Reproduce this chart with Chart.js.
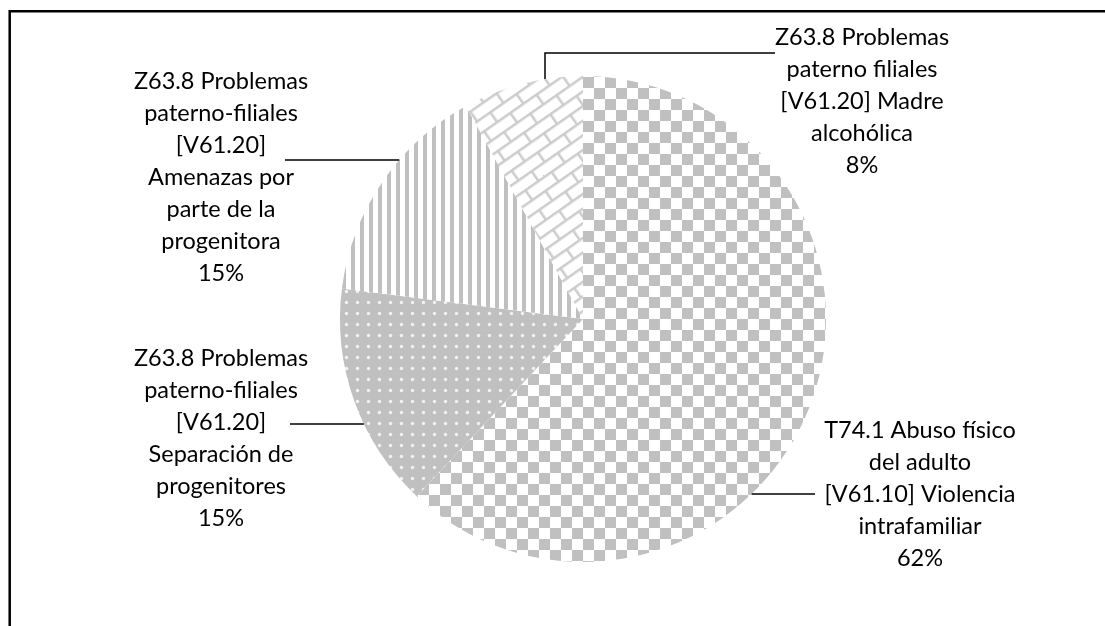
<!DOCTYPE html>
<html>
<head>
<meta charset="utf-8">
<script src="https://cdn.jsdelivr.net/npm/chart.js@4/dist/chart.umd.min.js"></script>
<style>
  html,body{margin:0;padding:0;background:#fff;overflow:hidden}
  #wrap{position:relative;width:1105px;height:626px}
</style>
</head>
<body>
<div id="wrap"><canvas id="chart" width="1105" height="626"></canvas></div>
<script>
// ---- Data ----
const categories = [
  ["T74.1 Abuso físico","del adulto","[V61.10] Violencia","intrafamiliar"],
  ["Z63.8 Problemas","paterno-filiales","[V61.20]","Separación de","progenitores"],
  ["Z63.8 Problemas","paterno-filiales","[V61.20]","Amenazas por","parte de la","progenitora"],
  ["Z63.8 Problemas","paterno filiales","[V61.20] Madre","alcohólica"]
];
const values = [62, 15, 15, 8];

// ---- Label placement (offsets from pie centre, px) ----
const labelLayout = [
  {tx: 337,  ty: 111,  line:{kind:"h", y: 175,  side: 1, to: 232}},
  {tx: -362, ty: 39,   line:{kind:"h", y: 105,  side:-1, to:-293}},
  {tx: -362, ty: -238, line:{kind:"h", y:-159,  side:-1, to:-298}},
  {tx: 279,  ty: -282, line:{kind:"v", x:-38, elbowY:-266, to:192}}
];
const LINE_H = 32;
const FONT = "23.5px Lato";

// ---- Patterns ----
function tile(w,h,draw){
  const c=document.createElement("canvas"); c.width=w; c.height=h;
  draw(c.getContext("2d")); return c;
}
const GRAY = "#c0c0c0";
const pctx = document.getElementById("chart").getContext("2d");

const checker = pctx.createPattern(tile(22,22,g=>{
  g.fillStyle="#fff"; g.fillRect(0,0,22,22);
  g.fillStyle=GRAY; g.fillRect(0,0,11,11); g.fillRect(11,11,11,11);
}),"repeat");

const dots = pctx.createPattern(tile(11,11,g=>{
  g.fillStyle=GRAY; g.fillRect(0,0,11,11);
  g.fillStyle="#f2f2f2"; g.beginPath(); g.arc(5.5,5.5,1.7,0,Math.PI*2); g.fill();
}),"repeat");

const stripes = pctx.createPattern(tile(9,9,g=>{
  g.fillStyle="#fff"; g.fillRect(0,0,9,9);
  g.fillStyle=GRAY; g.fillRect(0,0,4,9);
}),"repeat");

const bricks = pctx.createPattern(tile(32,24,g=>{
  g.fillStyle="#fff"; g.fillRect(0,0,32,24);
  g.fillStyle="#cccccc";
  g.fillRect(0,0,32,2.5); g.fillRect(0,12,32,2.5);
  g.fillRect(0,0,2.5,12); g.fillRect(16,12,2.5,12);
}),"repeat");
bricks.setTransform(new DOMMatrix().rotateSelf(-35));

// ---- Plugins ----
const frame = {
  id:"frame",
  beforeDraw(chart){
    const c=chart.ctx; c.save();
    c.strokeStyle="#000"; c.lineWidth=2.5;
    c.beginPath(); c.moveTo(9.7,700); c.lineTo(9.7,11.3); c.lineTo(1200,11.3); c.stroke();
    c.restore();
  }
};

const outLabels = {
  id:"outLabels",
  afterDraw(chart){
    const c=chart.ctx;
    const meta=chart.getDatasetMeta(0);
    const total=values.reduce((a,b)=>a+b,0);
    c.save();
    meta.data.forEach((arc,i)=>{
      const L=labelLayout[i]; const cx=arc.x, cy=arc.y, r=arc.outerRadius;
      // leader line
      c.strokeStyle="#000"; c.lineWidth=1.5; c.beginPath();
      if(L.line.kind==="h"){
        const y=L.line.y;
        const x0=L.line.side*Math.sqrt(Math.max(0,r*r-y*y));
        c.moveTo(cx+x0,cy+y); c.lineTo(cx+L.line.to,cy+y);
      }else{
        const x=L.line.x;
        const y0=-Math.sqrt(Math.max(0,r*r-x*x));
        c.moveTo(cx+x,cy+y0); c.lineTo(cx+x,cy+L.line.elbowY); c.lineTo(cx+L.line.to,cy+L.line.elbowY);
      }
      c.stroke();
      // text
      const lines=categories[i].concat([Math.round(values[i]/total*100)+"%"]);
      c.fillStyle="#000"; c.font=FONT; c.textAlign="center"; c.textBaseline="middle";
      lines.forEach((t,k)=>c.fillText(t,cx+L.tx,cy+L.ty+k*LINE_H));
    });
    c.restore();
  }
};

new Chart(document.getElementById("chart"),{
  type:"pie",
  data:{
    labels: categories.map(l=>l.join(" ")),
    datasets:[{data: values, backgroundColor:[checker,dots,stripes,bricks], borderWidth:0}]
  },
  options:{
    responsive:false, animation:false,
    layout:{padding:{left:340,right:279,top:76,bottom:64}},
    plugins:{legend:{display:false},tooltip:{enabled:false}}
  },
  plugins:[frame,outLabels]
});
</script>
</body>
</html>
